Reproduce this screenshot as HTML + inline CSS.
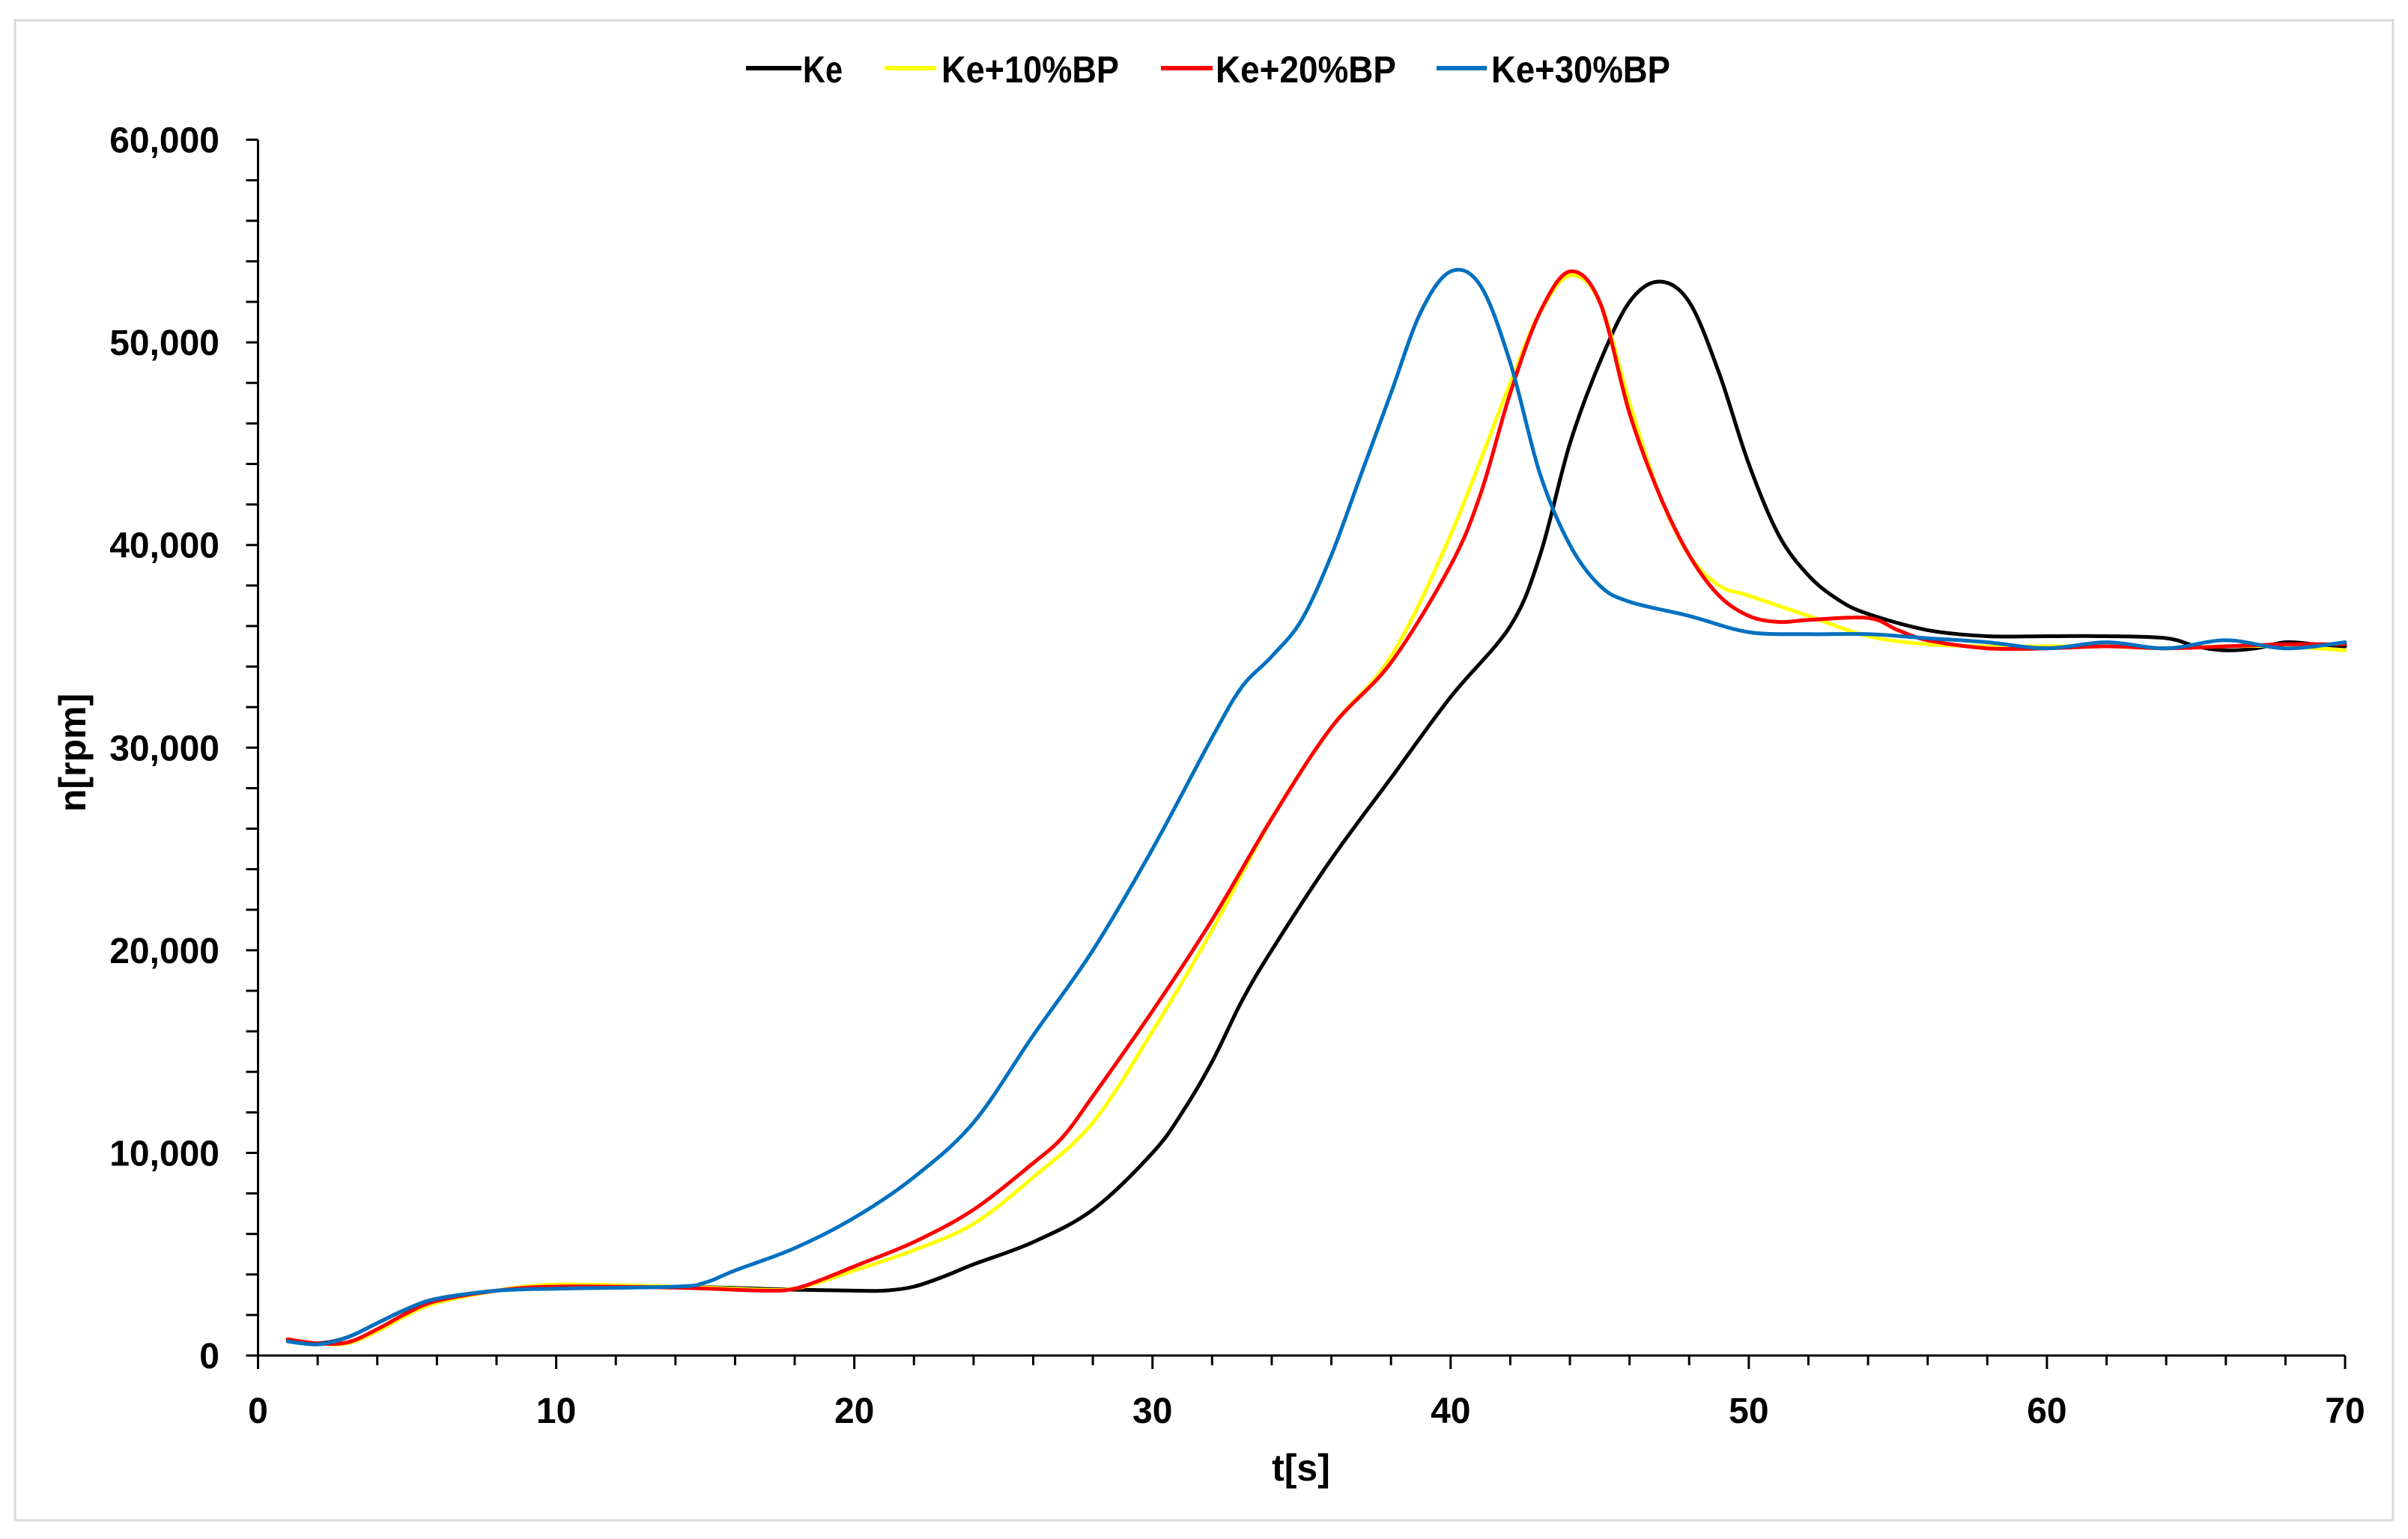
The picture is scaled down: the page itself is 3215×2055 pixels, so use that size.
<!DOCTYPE html>
<html><head><meta charset="utf-8">
<style>
html,body{margin:0;padding:0;background:#fff;}
svg{display:block;font-family:"Liberation Sans",sans-serif;font-weight:bold;}
</style></head>
<body>
<svg id="chart" width="3215" height="2055" viewBox="0 0 3215 2055" xmlns="http://www.w3.org/2000/svg">
<rect x="20" y="27" width="3175" height="2003" fill="#fff" stroke="#d9d9d9" stroke-width="3"/>
<g id="legend">
 <g><line x1="996" y1="91" x2="1070" y2="91" stroke="#000" stroke-width="6"/><text x="1072" y="110" font-size="50" textLength="53" lengthAdjust="spacingAndGlyphs">Ke</text></g>
 <g><line x1="1181" y1="91" x2="1250" y2="91" stroke="#ffff00" stroke-width="6"/><text x="1257" y="110" font-size="50" textLength="237" lengthAdjust="spacingAndGlyphs">Ke+10%BP</text></g>
 <g><line x1="1550" y1="91" x2="1619" y2="91" stroke="#ff0000" stroke-width="6"/><text x="1623" y="110" font-size="50" textLength="241" lengthAdjust="spacingAndGlyphs">Ke+20%BP</text></g>
 <g><line x1="1918" y1="91" x2="1985" y2="91" stroke="#0070c0" stroke-width="6"/><text x="1991" y="110" font-size="50" textLength="239" lengthAdjust="spacingAndGlyphs">Ke+30%BP</text></g>
</g>
<g id="axes"></g>
<g id="series"></g>
<text x="1737" y="1977" font-size="50" text-anchor="middle">t[s]</text>
<text transform="translate(114,1005) rotate(-90)" font-size="50" text-anchor="middle">n[rpm]</text>
</svg>
<script>
const yTicks = [0,10000,20000,30000,40000,50000,60000];
const xTicks = [0,10,20,30,40,50,60,70];
const seriesNames = ["Ke","Ke+10%BP","Ke+20%BP","Ke+30%BP"];
const seriesColors = ["#000000","#ffff00","#ff0000","#0070c0"];
const keT = [1,2,3,4,5,6,8,10,14,18,20,21,22,23,24,26,28,30,31,32,33,34,36,38,40,42,43,44,45,46,47,48,49,50,51,52,53,54,56,58,60,62,64,65,66,67,68,69,70];
const keN = [800,600,900,1600,2300,2800,3200,3400,3400,3250,3200,3200,3400,3900,4500,5600,7200,10000,12000,14500,17500,20000,24500,28500,32500,36000,39500,45000,49000,52000,53000,52000,48500,44000,40500,38500,37300,36600,35800,35500,35500,35500,35400,35000,34800,34900,35200,35100,35000];
const bp10T = [1,2,3,4,5,6,8,10,14,17,18,19,20,22,24,26,28,30,32,34,36,38,40,42,43,44,45,46,47,48,49,50,52,54,56,58,60,62,64,66,68,70];
const bp10N = [800,600,600,1200,2000,2600,3200,3500,3400,3250,3300,3700,4200,5200,6500,8800,11500,16000,21000,26500,31000,34500,40500,48000,51500,53300,52000,47000,42500,39500,38000,37500,36500,35500,35100,35000,35000,35000,34900,35000,35000,34800];
const bp20T = [1,2,3,4,5,6,8,10,14,17,18,19,20,22,24,26,27,28,30,32,34,36,38,40,41,42,43,44,45,46,47,48,49,50,51,52,54,55,56,58,60,62,64,66,68,70];
const bp20N = [800,600,650,1300,2100,2700,3200,3400,3350,3200,3300,3800,4400,5600,7200,9500,10800,12800,17000,21500,26500,31000,34200,39000,42500,47500,51500,53500,52000,46500,42500,39500,37500,36500,36200,36300,36400,35800,35300,34900,34900,35000,34900,35000,35100,35100];
const bp30T = [1,2,3,4,5,6,8,10,14,15,16,18,20,22,24,26,28,30,32,33,34,35,36,37,38,39,40,41,42,43,44,45,46,48,50,52,54,56,58,60,62,64,66,68,70];
const bp30N = [700,550,900,1600,2300,2800,3200,3300,3400,3600,4200,5300,6800,8800,11500,15800,20000,25000,30500,33000,34500,36300,39500,43500,47500,51500,53500,52800,49000,43500,40000,38000,37200,36500,35700,35600,35600,35400,35200,34900,35200,34900,35300,34900,35200];

const X0=344.5, X1=3131, Y0=1810, Y1=186.6;
const xs = t => X0 + (t/70)*(X1-X0);
const ys = n => Y0 - (n/60000)*(Y0-Y1);
const NS="http://www.w3.org/2000/svg";
const axes=document.getElementById('axes');
function mk(tag,attrs,parent){const e=document.createElementNS(NS,tag);for(const k in attrs)e.setAttribute(k,attrs[k]);parent.appendChild(e);return e;}
let e=mk('line',{x1:X0,y1:Y1,x2:X0,y2:Y0,stroke:'#000','stroke-width':3},axes);


e=mk('line',{x1:X0-16,y1:Y0,x2:X1,y2:Y0,stroke:'#000','stroke-width':3},axes);


for(let v=0;v<=60000;v+=2000){
  e=mk('line',{x1:X0-16,y1:ys(v),x2:X0,y2:ys(v),stroke:'#000','stroke-width':3},axes);
  
  
}
for(let t=0;t<=70;t+=2){
  e=mk('line',{x1:xs(t),y1:Y0,x2:xs(t),y2:Y0+(t%10===0?18:13),stroke:'#000','stroke-width':3},axes);
  
  
}
yTicks.forEach(v=>{
  e=mk('text',{x:293,y:ys(v)+17,'font-size':48,'text-anchor':'end'},axes);
  e.textContent=v.toLocaleString('en-US');
  
  
});
xTicks.forEach(v=>{
  e=mk('text',{x:xs(v),y:1900,'font-size':48,'text-anchor':'middle'},axes);
  e.textContent=String(v);
  
  
});
function pathFor(T,N){
  const p=T.map((t,i)=>[xs(t),ys(N[i])]);
  let d='M'+p[0][0].toFixed(1)+','+p[0][1].toFixed(1);
  for(let i=0;i<p.length-1;i++){
    const a=p[Math.max(0,i-1)],b=p[i],c=p[i+1],f=p[Math.min(p.length-1,i+2)];
    const c1=[b[0]+(c[0]-a[0])/6,b[1]+(c[1]-a[1])/6];
    const c2=[c[0]-(f[0]-b[0])/6,c[1]-(f[1]-b[1])/6];
    d+=' C'+c1[0].toFixed(1)+','+c1[1].toFixed(1)+' '+c2[0].toFixed(1)+','+c2[1].toFixed(1)+' '+c[0].toFixed(1)+','+c[1].toFixed(1);
  }
  return d;
}
const sg=document.getElementById('series');
const allT=[keT,bp10T,bp20T,bp30T], allN=[keN,bp10N,bp20N,bp30N];
const sNames=['series-ke','series-ke-10bp','series-ke-20bp','series-ke-30bp'];
for(let i=0;i<4;i++){
  e=mk('path',{d:pathFor(allT[i],allN[i]),fill:'none',stroke:seriesColors[i],'stroke-width':5,'stroke-linejoin':'round','stroke-linecap':'round'},sg);
  
  
}
</script>
</body></html>
